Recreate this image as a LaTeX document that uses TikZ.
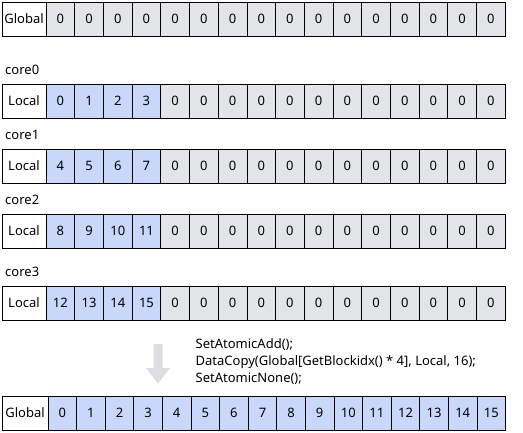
\documentclass[tikz,border=0pt]{standalone}
\usepackage{fontspec}
\setmainfont{Noto Sans}
\definecolor{cellgray}{HTML}{E3E4E8}
\definecolor{cellblue}{HTML}{C9D8FA}
\definecolor{arrowgray}{HTML}{DCDDE1}
\tikzset{
  cell/.style={draw=black,line width=0.8pt,minimum width=28.7pt,minimum height=34pt,
    inner sep=0pt,font=\fontsize{13}{15}\selectfont},
  labelcell/.style={cell,fill=white,minimum width=44pt},
  corelabel/.style={anchor=west,inner sep=0pt,font=\fontsize{13}{15}\selectfont}
}
\begin{document}
\begin{tikzpicture}[x=1pt,y=-1pt]
  \useasboundingbox (0,0) rectangle (523,432);

  % Global memory before
  \node[labelcell] (gtop) at (24,19) {Global};
  \foreach \i in {0,...,15}{
    \node[cell,fill=cellgray] (gtop-\i) at (46+28.7*\i+14.35,19) {0};
  }

  % Local buffers of each core
  \foreach \r/\top in {0/84,1/149,2/214,3/286}{
    \node[corelabel] (core\r) at (5,\top-14) {core\r};
    \node[labelcell] (local\r) at (24,\top+17) {Local};
    \foreach \i in {0,...,15}{
      \pgfmathtruncatemacro\val{4*\r+\i}
      \ifnum\i<4 \def\cellfill{cellblue}\else\def\cellfill{cellgray}\def\val{0}\fi
      \node[cell,fill=\cellfill] (local\r-\i) at (46+28.7*\i+14.35,\top+17) {\val};
    }
  }

  % Arrow and code
  \fill[arrowgray] (153.5,344) -- (162.5,344) -- (162.5,368) -- (170,368)
    -- (158,383.5) -- (146,368) -- (153.5,368) -- cycle;
  \node[anchor=north west,align=left,inner sep=0pt,
    font=\fontsize{13}{17}\selectfont] (code) at (195.5,338.5)
    {SetAtomicAdd();\\DataCopy(Global[GetBlockidx() * 4], Local, 16);\\SetAtomicNone();};

  % Global memory after
  \node[labelcell,minimum width=46pt] (gbot) at (25,413) {Global};
  \foreach \i in {0,...,15}{
    \node[cell,fill=cellblue,minimum width=28.6pt] (gbot-\i) at (48+28.6*\i+14.3,413) {\i};
  }
\end{tikzpicture}
\end{document}
